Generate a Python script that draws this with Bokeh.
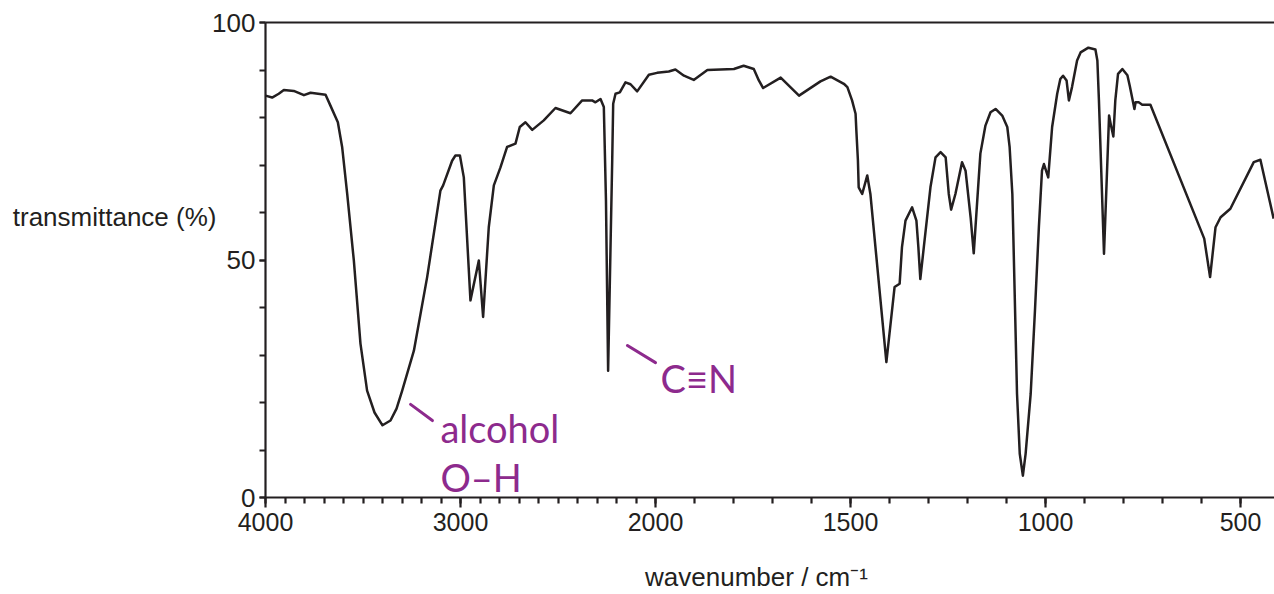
import numpy as np
from bokeh.plotting import figure
from bokeh.models import Range1d, FixedTicker, LinearAxis, ColumnDataSource
from bokeh.embed import file_html
from bokeh.resources import INLINE
from bokeh.core.properties import value

# ---------------- data ----------------
wavenumber = [4000, 3966, 3932, 3906, 3855, 3803, 3769, 3692, 3667, 3629, 3607, 3581, 3547,
              3513, 3479, 3441, 3400, 3359, 3328, 3299, 3239, 3171, 3103, 3089, 3043, 3026,
              3003, 2983, 2949, 2906, 2884, 2855, 2829, 2795, 2761, 2718, 2696, 2667, 2632,
              2573, 2513, 2436, 2376, 2325, 2308, 2282, 2265, 2254, 2243, 2231, 2222, 2217,
              2205, 2183, 2154, 2128, 2094, 2034, 1996, 1966, 1949, 1927, 1902, 1867, 1799,
              1774, 1748, 1735, 1724, 1679, 1632, 1577, 1551, 1517, 1508, 1496, 1487, 1485,
              1481, 1479, 1470, 1457, 1449, 1408, 1387, 1374, 1368, 1359, 1342, 1331, 1326,
              1321, 1312, 1295, 1282, 1269, 1256, 1248, 1242, 1231, 1214, 1205, 1192, 1184,
              1175, 1167, 1154, 1141, 1128, 1111, 1098, 1092, 1085, 1081, 1073, 1066, 1058,
              1051, 1038, 1027, 1017, 1009, 1004, 993, 983, 970, 962, 955, 946, 940, 932,
              919, 910, 890, 872, 867, 863, 850, 837, 833, 826, 821, 814, 803, 790, 784,
              772, 769, 761, 752, 731, 593, 578, 564, 551, 526, 466, 449, 415]
transmittance = [84.6, 84.2, 85.0, 85.8, 85.6, 84.7, 85.2, 84.8, 82.5, 79.0, 73.8, 63.9, 49.9,
                 32.4, 22.5, 17.9, 15.2, 16.2, 18.7, 22.5, 30.9, 46.4, 64.6, 65.7, 70.9, 72.0,
                 72.0, 67.4, 41.5, 49.9, 38.0, 56.9, 65.7, 69.5, 73.8, 74.5, 78.0, 79.0, 77.4,
                 79.4, 82.0, 80.9, 83.6, 83.6, 83.2, 83.9, 82.2, 62.5, 26.7, 52.0, 70.9, 82.9,
                 85.0, 85.3, 87.4, 87.0, 85.5, 89.0, 89.4, 89.7, 90.1, 88.8, 87.9, 90.0, 90.2,
                 90.9, 90.2, 87.8, 86.2, 88.4, 84.6, 87.6, 88.6, 87.1, 86.4, 83.6, 80.8, 77.3,
                 71.0, 65.3, 63.9, 67.8, 63.9, 28.5, 44.3, 45.0, 52.7, 58.3, 61.1, 58.3, 52.7,
                 46.0, 52.7, 65.3, 71.6, 72.7, 71.6, 63.9, 60.6, 63.9, 70.6, 68.8, 59.0, 51.4,
                 62.5, 72.4, 78.3, 81.1, 81.8, 80.4, 78.0, 73.8, 63.9, 49.9, 21.8, 9.2, 4.6,
                 9.2, 21.8, 39.4, 56.9, 68.8, 70.2, 67.4, 78.0, 85.0, 88.1, 88.8, 87.8, 83.6,
                 86.4, 92.0, 93.7, 94.7, 94.3, 92.0, 83.6, 51.3, 80.4, 78.7, 76.0, 83.6, 89.2,
                 90.2, 88.9, 86.7, 81.8, 83.2, 83.2, 82.7, 82.7, 54.5, 46.4, 56.9, 59.0, 60.8,
                 70.6, 71.1, 58.7]

x_tick_values = [4000, 3000, 2000, 1500, 1000, 500]
x_tick_labels = ["4000", "3000", "2000", "1500", "1000", "500"]
x_minor_values = [4000, 3900, 3800, 3700, 3600, 3500, 3400, 3300, 3200, 3100, 3000, 2900, 2800,
                  2700, 2600, 2500, 2400, 2300, 2200, 2100, 2000, 1900, 1800, 1700, 1600, 1500,
                  1400, 1300, 1200, 1100, 1000, 900, 800, 700, 600, 500]
y_tick_values = [0, 50, 100]
y_minor_values = [0, 10, 20, 30, 40, 50, 60, 70, 80, 90, 100]
y_title = "transmittance (%)"
y_title_at = 59          # transmittance level of the y title
x_title = "wavenumber / cm\u207b\u00b9"
x_title_at = 1741        # wavenumber under which the x title is centred

# annotations (handwritten notes): text, wavenumber, transmittance
note_texts = ["alcohol", "O\u2013H", "C\u2261N"]
note_wn = [3103, 3103, 1987]
note_t = [14.7, 4.4, 25.1]
stroke_wn0 = [3256, 2144]
stroke_wn1 = [3144, 2000]
stroke_t0 = [19.6, 32.0]
stroke_t1 = [16.2, 28.4]


# wavenumber axis has a scale change at 2000 cm-1 (twice the scale below 2000)
def to_u(w):
    w = np.asarray(w, dtype=float)
    return np.where(w >= 2000, 4000 - w, 2000 + 2 * (2000 - w))


INK = "#231f20"
PURPLE = "#8d2a8d"
FONT = "Liberation Sans"

W, H = 1274, 594
LEFT, TOP, BOTTOM = 265, 22, 97
frame_w = W - LEFT
px_per_unit = 0.195
x_end = frame_w / px_per_unit

p = figure(width=W, height=H, output_backend="svg", toolbar_location=None,
           x_range=Range1d(0, x_end), y_range=Range1d(0, 100),
           x_axis_location=None, y_axis_location=None,
           min_border_left=LEFT, min_border_right=0, min_border_top=TOP,
           min_border_bottom=BOTTOM)
p.outline_line_color = None
p.xgrid.visible = False
p.ygrid.visible = False
p.background_fill_color = "white"
p.border_fill_color = "white"

src = ColumnDataSource(dict(u=to_u(wavenumber), t=transmittance))
p.line("u", "t", source=src, line_color=INK, line_width=2.5, line_join="round")

# x axis
xu = [int(v) for v in to_u(x_tick_values)]
xmin = [int(v) for v in to_u(x_minor_values)]
xaxis = LinearAxis(ticker=FixedTicker(ticks=xu, minor_ticks=xmin),
                   major_label_overrides={u: lab for u, lab in zip(xu, x_tick_labels)})
xaxis.axis_line_color = INK
xaxis.axis_line_width = 2.2
xaxis.major_tick_line_color = INK
xaxis.major_tick_line_width = 2.2
xaxis.minor_tick_line_color = INK
xaxis.minor_tick_line_width = 2.2
xaxis.major_tick_in = 0
xaxis.major_tick_out = 10
xaxis.minor_tick_in = 0
xaxis.minor_tick_out = 6
xaxis.major_label_standoff = 5
xaxis.major_label_text_font = FONT
xaxis.major_label_text_font_size = "25px"
xaxis.major_label_text_color = INK
p.add_layout(xaxis, "below")

# x axis title (placed as a single labelled tick so it can sit off-centre)
xt = int(to_u([x_title_at])[0])
xtitle = LinearAxis(ticker=FixedTicker(ticks=[xt]), major_label_overrides={xt: x_title},
                    axis_line_color=None, major_tick_line_color=None,
                    minor_tick_line_color=None, major_tick_in=0, major_tick_out=0,
                    minor_tick_in=0, minor_tick_out=0, major_label_standoff=28,
                    major_label_text_font=FONT, major_label_text_font_size="26px",
                    major_label_text_color=INK)
p.add_layout(xtitle, "below")

# y axis
yaxis = LinearAxis(ticker=FixedTicker(ticks=y_tick_values, minor_ticks=y_minor_values))
yaxis.axis_line_color = INK
yaxis.axis_line_width = 2.2
yaxis.major_tick_line_color = INK
yaxis.major_tick_line_width = 2.2
yaxis.minor_tick_line_color = INK
yaxis.minor_tick_line_width = 2.2
yaxis.major_tick_in = 0
yaxis.major_tick_out = 6
yaxis.minor_tick_in = 0
yaxis.minor_tick_out = 6
yaxis.major_label_standoff = 4
yaxis.major_label_text_font = FONT
yaxis.major_label_text_font_size = "26px"
yaxis.major_label_text_color = INK
p.add_layout(yaxis, "left")

# y axis title: horizontal text left of the tick labels, at ~59 %
ytitle = LinearAxis(ticker=FixedTicker(ticks=[y_title_at]),
                    major_label_overrides={y_title_at: y_title},
                    axis_line_color=None, major_tick_line_color=None,
                    minor_tick_line_color=None, major_tick_in=0, major_tick_out=0,
                    minor_tick_in=0, minor_tick_out=0, major_label_standoff=-7,
                    major_label_text_font=FONT, major_label_text_font_size="26px",
                    major_label_text_color=INK)
p.add_layout(ytitle, "left")

# top frame line
top = LinearAxis(ticker=FixedTicker(ticks=[]), major_tick_out=0, major_tick_in=0,
                 minor_tick_out=0, minor_tick_in=0, major_label_standoff=0,
                 axis_line_color=INK, axis_line_width=2.2)
p.add_layout(top, "above")

# handwritten notes
p.segment(x0=to_u(stroke_wn0), y0=stroke_t0, x1=to_u(stroke_wn1), y1=stroke_t1,
          line_color=PURPLE, line_width=3, line_cap="round")
p.text(x=to_u(note_wn), y=note_t, text=note_texts, text_color=PURPLE,
       text_font=value("Lato"), text_font_size="38px", text_baseline="middle",
       text_align="left")

open("out.html", "w").write(file_html(p, INLINE))
